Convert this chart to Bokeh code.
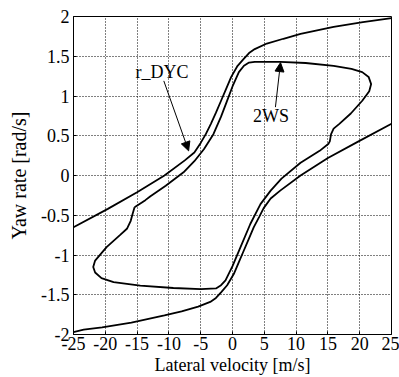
from bokeh.plotting import figure
from bokeh.models import Arrow, NormalHead, Label, FixedTicker, Range1d
from bokeh.embed import file_html
from bokeh.resources import INLINE

# ---- data ----
x_ticks = [-25, -20, -15, -10, -5, 0, 5, 10, 15, 20, 25]
x_tick_labels = ["-25", "-20", "-15", "-10", "-5", "0", "5", "10", "15", "20", "25"]
y_ticks = [-2, -1.5, -1, -0.5, 0, 0.5, 1, 1.5, 2]
y_tick_labels = ["-2", "-1.5", "-1", "-0.5", "0", "0.5", "1", "1.5", "2"]

# r_DYC: upper branch
rdyc_upper_x = [-25, -19.6, -15.0, -10.7, -7.5, -6.0, -5.0, -4.2, -3.4, -2.6, -1.8, -1.0, -0.2,
                0.8, 1.8, 2.6, 3.5, 5.4, 8.0, 10.7, 15.9, 20.5, 25]
rdyc_upper_y = [-0.65, -0.42, -0.21, 0.0, 0.19, 0.29, 0.41, 0.52, 0.65, 0.79, 0.94, 1.09, 1.24,
                1.38, 1.47, 1.54, 1.59, 1.66, 1.72, 1.78, 1.87, 1.93, 1.98]
# r_DYC: lower branch
rdyc_lower_x = [-25, -23.4, -20.5, -15.9, -10.7, -8.0, -5.4, -3.5, -2.6, -1.8, -0.84, 0.2, 1.0,
                1.8, 2.6, 3.35, 4.2, 4.9, 6.0, 7.5, 10.7, 15.0, 19.6, 25]
rdyc_lower_y = [-1.97, -1.94, -1.91, -1.85, -1.76, -1.71, -1.65, -1.59, -1.54, -1.47, -1.38, -1.24, -1.09,
                -0.94, -0.79, -0.65, -0.52, -0.41, -0.29, -0.19, 0.0, 0.22, 0.42, 0.65]

# 2WS: closed loop
ws_x = [-15.4, -13.7, -12.9, -10.5, -7.7, -6.0, -4.5, -3.0, -1.8, -0.9, 0.0, 1.0, 1.8, 2.6, 3.5,
        7.5, 11.5, 15.9, 18.7, 20.4, 21.4, 21.8, 21.5, 20.4, 18.6, 16.8, 15.9, 15.5, 15.3, 15.1,
        13.7, 10.7, 7.7, 6.0, 4.4, 2.8, 1.26, 0.0, -1.1, -1.8, -2.6, -5.0, -9.3, -14.5, -18.7,
        -20.6, -21.6, -21.9, -21.6, -19.8, -17.7, -16.6, -16.0, -15.7, -15.4]
ws_y = [-0.40, -0.31, -0.26, -0.13, 0.04, 0.18, 0.33, 0.52, 0.74, 0.93, 1.12, 1.30, 1.38, 1.42, 1.43,
        1.43, 1.415, 1.38, 1.34, 1.30, 1.24, 1.15, 1.06, 0.94, 0.78, 0.65, 0.59, 0.52, 0.43, 0.40,
        0.31, 0.16, -0.04, -0.19, -0.36, -0.61, -0.90, -1.14, -1.32, -1.38, -1.42, -1.43, -1.415, -1.385, -1.34,
        -1.29, -1.22, -1.15, -1.07, -0.90, -0.75, -0.67, -0.57, -0.48, -0.40]

# annotations
rdyc_label = ("r_DYC", -11.1, 1.30)
rdyc_arrow = (-10.8, 1.19, -6.9, 0.31)
ws_label = ("2WS", 6.05, 0.75)
ws_arrow = (6.75, 0.86, 7.55, 1.42)

FONT = "Liberation Serif"

p = figure(width=399, height=377, x_range=Range1d(-25, 25), y_range=Range1d(-2, 2),
           output_backend="svg", toolbar_location=None,
           min_border_left=73, min_border_right=8, min_border_top=16, min_border_bottom=43)
p.background_fill_color = "white"
p.border_fill_color = "white"
p.outline_line_color = "black"
p.outline_line_width = 1

for ax in (p.xaxis[0], p.yaxis[0]):
    ax.axis_line_color = "black"
    ax.major_tick_line_color = "black"
    ax.major_tick_in = 3
    ax.major_tick_out = 0
    ax.minor_tick_line_color = None
    ax.major_label_text_font = FONT
    ax.major_label_text_font_size = "18px"
    ax.major_label_text_color = "black"
    ax.axis_label_text_font = FONT
    ax.axis_label_text_font_style = "normal"
    ax.axis_label_text_color = "black"

p.xaxis.axis_label_text_font_size = "18px"
p.yaxis.axis_label_text_font_size = "20px"
p.xaxis.ticker = FixedTicker(ticks=x_ticks)
p.yaxis.ticker = FixedTicker(ticks=y_ticks)
p.xaxis.major_label_overrides = dict(zip(x_ticks, x_tick_labels))
p.yaxis.major_label_overrides = dict(zip(y_ticks, y_tick_labels))
p.xaxis.axis_label = "Lateral velocity [m/s]"
p.yaxis.axis_label = "Yaw rate [rad/s]"
p.xaxis.major_label_standoff = 2
p.xaxis.axis_label_standoff = 2
p.yaxis.major_label_standoff = 4
p.yaxis.axis_label_standoff = 8

p.grid.grid_line_color = "black"
p.grid.grid_line_dash = "1 2"
p.grid.grid_line_width = 1
p.grid.grid_line_alpha = 1.0

p.line(rdyc_upper_x, rdyc_upper_y, line_color="black", line_width=1.8)
p.line(rdyc_lower_x, rdyc_lower_y, line_color="black", line_width=1.8)
p.line(ws_x, ws_y, line_color="black", line_width=1.8)

for (txt, lx, ly), (x0, y0, x1, y1) in ((rdyc_label, rdyc_arrow), (ws_label, ws_arrow)):
    p.add_layout(Label(x=lx, y=ly, text=txt, text_font=FONT, text_font_size="18px",
                       text_align="center", text_baseline="middle", text_color="black"))
    p.add_layout(Arrow(x_start=x0, y_start=y0, x_end=x1, y_end=y1, line_color="black", line_width=1,
                       end=NormalHead(size=9, fill_color="black", line_color="black", line_width=1)))

open("out.html", "w").write(file_html(p, INLINE))
